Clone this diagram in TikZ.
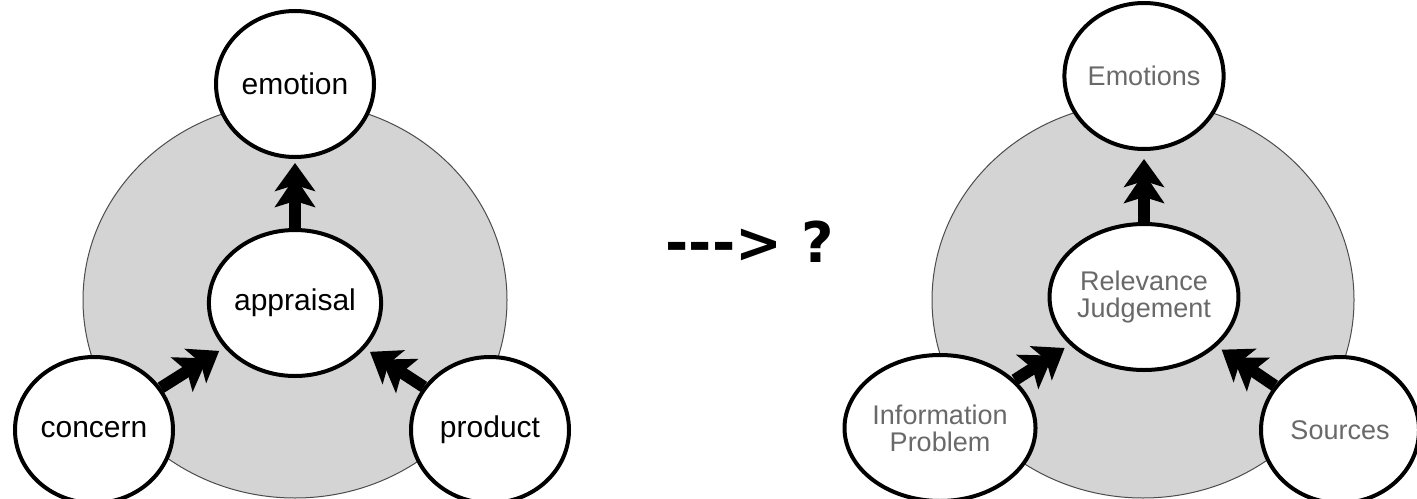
\documentclass[tikz,border=0pt]{standalone}
\usepackage{fontspec}
\setmainfont{Liberation Sans}
\newfontfamily\qfont{DejaVu Sans}
\usetikzlibrary{shapes.geometric,arrows.meta}
\definecolor{bggray}{RGB}{212,212,212}
\definecolor{txtgray}{RGB}{105,105,105}
\begin{document}
\begin{tikzpicture}[x=0.5pt,y=-0.5pt,
  bub/.style={ellipse,draw,line width=2pt,fill=white,minimum width=79pt,minimum height=73pt,inner sep=0pt,align=center},
  ltext/.style={font=\fontsize{15}{17}\selectfont},
  rtext/.style={font=\fontsize{13.5}{13.5}\selectfont,text=txtgray},
  bg/.style={draw=black!70,line width=0.5pt,fill=bggray},
  bigarrow/.style={line width=6pt,-{Stealth[length=15pt,width=20pt,inset=3pt,sep=-7pt]Stealth[length=14pt,width=20pt,inset=3pt]}}
]
\useasboundingbox (0,0) rectangle (1417,498);
\clip (0,0) rectangle (1417,498);
\fill[white] (0,0) rectangle (1417,498);
% left diagram
\draw[bg] (295,300) ellipse [x radius=212, y radius=198];
\node[bub,ltext] (emo) at (295,84) {emotion};
\node[bub,ltext] (app) at (295,303) {appraisal};
\node[bub,ltext] (con) at (94,430) {concern};
\node[bub,ltext] (pro) at (490,430) {product};
\draw[bigarrow,shorten >=2pt] (app) -- (emo);
\draw[bigarrow,shorten >=3pt] (con) -- (app);
\draw[bigarrow,shorten >=3pt] (pro) -- (app);
% middle text
\node[font=\qfont\bfseries\fontsize{28}{28}\selectfont,anchor=base,inner sep=0pt] (q) at (750,262) {-\kern0pt-\kern0pt->\ ?};
% right diagram
\draw[bg] (1143,300) ellipse [x radius=211, y radius=198];
\node[bub,rtext] (emos) at (1144,76) {Emotions};
\node[bub,rtext] (rel) at (1144,297) {Relevance\\Judgement};
\node[bub,rtext] (info) at (940,428) {Information\\Problem};
\node[bub,rtext] (src) at (1340,430) {Sources};
\draw[bigarrow,shorten >=4pt] (rel) -- (emos);
\draw[bigarrow,shorten >=3pt] (info) -- (rel);
\draw[bigarrow,shorten >=3pt] (src) -- (rel);
\end{tikzpicture}
\end{document}
